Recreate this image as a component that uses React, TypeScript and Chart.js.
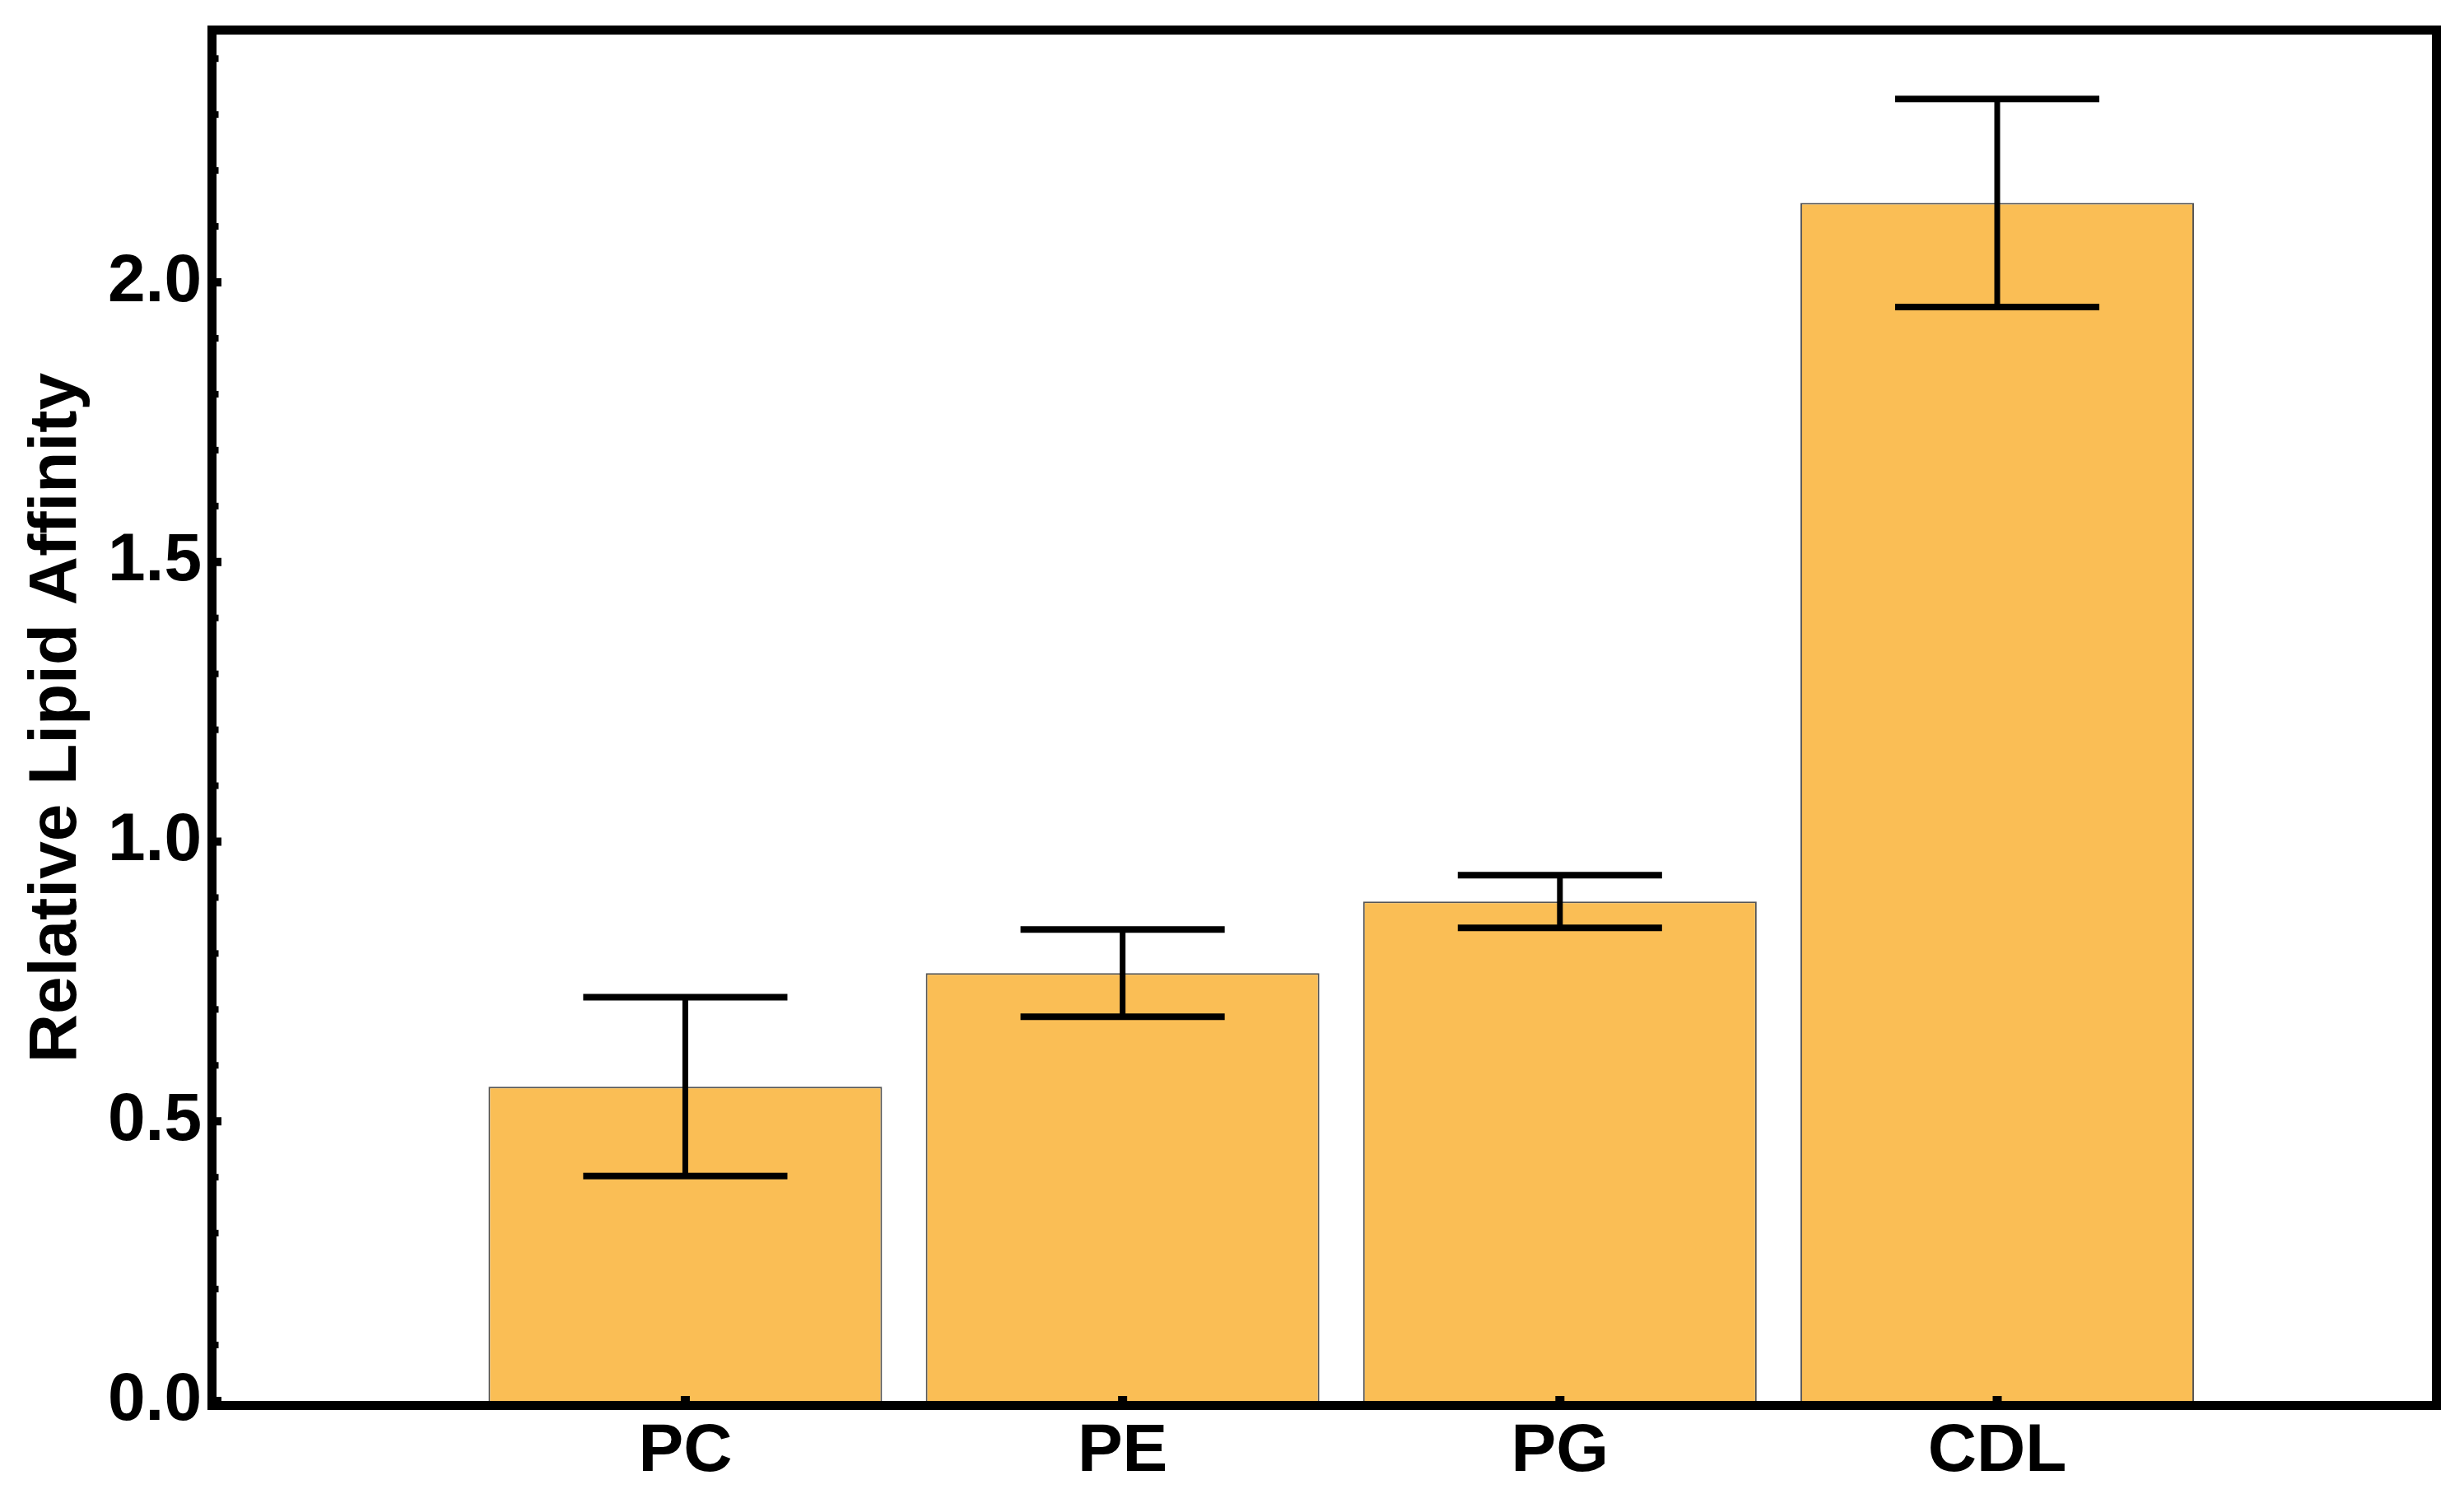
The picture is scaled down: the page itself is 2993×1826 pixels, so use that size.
import React, { useEffect, useRef } from "react";
import { Chart, registerables } from "chart.js";

Chart.register(...registerables);

// ---- data ----
const categories = ["PC", "PE", "PG", "CDL"];
const values = [0.562, 0.765, 0.893, 2.142];
const errors = [0.16, 0.078, 0.047, 0.186];
const yTickValues = [0, 0.5, 1.0, 1.5, 2.0];
const yMinorStep = 0.1;
const yAxisTitle = "Relative Lipid Affinity";

const FONT = "'Liberation Sans', Arial, Helvetica, sans-serif";
const W = 2993;
const H = 1826;

export default function App() {
  const ref = useRef<HTMLCanvasElement>(null);

  useEffect(() => {
    document.body.style.margin = "0";
    const canvas = ref.current!;
    const capHalf = 0.2335;

    const decor = {
      id: "decor",
      afterDatasetsDraw(chart: any) {
        const { ctx, scales } = chart;
        const x = scales.x;
        const y = scales.y;
        ctx.save();
        ctx.strokeStyle = "#000";
        ctx.lineCap = "butt";
        values.forEach((v, i) => {
          const px = x.getPixelForValue(i + 1);
          const top = y.getPixelForValue(v + errors[i]);
          const bot = y.getPixelForValue(v - errors[i]);
          const half = x.getPixelForValue(i + 1 + capHalf) - px;
          ctx.lineWidth = 7;
          ctx.beginPath();
          ctx.moveTo(px, top);
          ctx.lineTo(px, bot);
          ctx.stroke();
          ctx.lineWidth = 8;
          ctx.beginPath();
          ctx.moveTo(px - half, top);
          ctx.lineTo(px + half, top);
          ctx.moveTo(px - half, bot);
          ctx.lineTo(px + half, bot);
          ctx.stroke();
        });
        ctx.restore();
      },
      afterDraw(chart: any) {
        const { ctx, chartArea: a, scales } = chart;
        const x = scales.x;
        const y = scales.y;
        ctx.save();
        ctx.fillStyle = "#000";
        // y major ticks
        yTickValues.forEach((v) => {
          const py = y.getPixelForValue(v);
          ctx.fillRect(a.left, py - 5, 6, 10);
        });
        // y minor ticks
        for (let k = 1; k * yMinorStep <= y.max + 1e-9; k++) {
          const v = k * yMinorStep;
          if (yTickValues.some((t) => Math.abs(t - v) < 1e-6)) continue;
          const py = y.getPixelForValue(v);
          ctx.fillRect(a.left, py - 4, 2.5, 8);
        }
        // x ticks
        categories.forEach((_, i) => {
          const px = x.getPixelForValue(i + 1);
          ctx.fillRect(px - 5.5, a.bottom - 6, 11, 6);
        });
        // frame
        ctx.strokeStyle = "#000";
        ctx.lineWidth = 11;
        ctx.strokeRect(a.left - 5.5, a.top - 5.5, a.right - a.left + 11, a.bottom - a.top + 11);
        ctx.restore();
      },
    };

    const chart = new Chart(canvas, {
      type: "bar",
      data: {
        datasets: [
          {
            data: values.map((v, i) => ({ x: i + 1, y: v })),
            backgroundColor: "#FABE55",
            borderColor: "#555555",
            borderWidth: 2,
            barPercentage: 0.9,
            categoryPercentage: 1.0,
          },
        ],
      },
      options: {
        animation: false,
        responsive: false,
        devicePixelRatio: 1,
        layout: { padding: { left: 0, top: 42, right: 39, bottom: 0 } },
        plugins: {
          legend: { display: false },
          tooltip: { enabled: false },
        },
        scales: {
          x: {
            type: "linear",
            offset: false,
            min: -0.072,
            max: 4.994,
            grid: { display: false, drawTicks: false, offset: false },
            border: { display: false },
            afterBuildTicks: (s: any) => {
              s.ticks = categories.map((_, i) => ({ value: i + 1 }));
            },
            afterFit: (s: any) => {
              s.height = H - 1702;
              s.paddingLeft = 0;
              s.paddingRight = 0;
            },
            ticks: {
              color: "#000",
              padding: 13,
              maxRotation: 0,
              autoSkip: false,
              font: { family: FONT, size: 82, weight: "bold" },
              callback: (v: any) => categories[Math.round(Number(v)) - 1] ?? "",
            },
          },
          y: {
            type: "linear",
            min: 0,
            max: 2.443,
            grid: { display: false, drawTicks: false },
            border: { display: false },
            afterBuildTicks: (s: any) => {
              s.ticks = yTickValues.map((v) => ({ value: v }));
            },
            afterFit: (s: any) => {
              s.width = 263;
              s.paddingTop = 0;
              s.paddingBottom = 0;
            },
            ticks: {
              color: "#000",
              padding: 18,
              font: { family: FONT, size: 82, weight: "bold" },
              callback: (v: any) => Number(v).toFixed(1),
            },
            title: {
              display: true,
              text: yAxisTitle,
              color: "#000",
              padding: { top: 20, bottom: 0 },
              font: { family: FONT, size: 82, weight: "bold" },
            },
          },
        },
      },
      plugins: [decor],
    } as any);

    return () => chart.destroy();
  }, []);

  return (
    <div style={{ width: W, height: H }}>
      <canvas ref={ref} width={W} height={H} style={{ display: "block" }} />
    </div>
  );
}
